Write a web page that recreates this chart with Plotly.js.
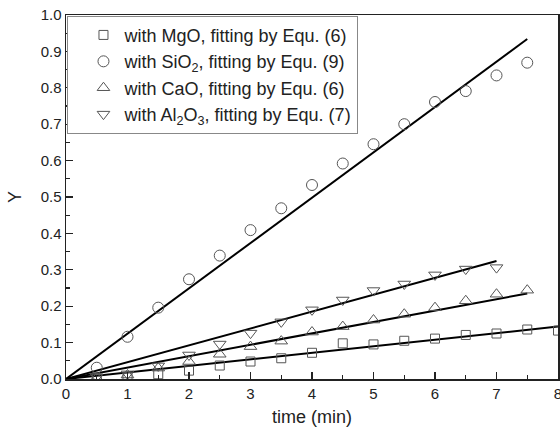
<!DOCTYPE html>
<html><head><meta charset="utf-8">
<script src="https://cdn.plot.ly/plotly-3.0.1.min.js"></script>
<style>html,body{margin:0;padding:0;background:#fff}#chart{width:560px;height:434px}</style>
</head><body><div id="chart"></div>
<script>
const timeMin = [0.5,1,1.5,2,2.5,3,3.5,4,4.5,5,5.5,6,6.5,7,7.5,8];
const mgoY   = [0.002,0.005,0.013,0.023,0.037,0.048,0.057,0.072,0.098,0.095,0.105,0.111,0.121,0.125,0.136,0.133];
const sio2X  = [0.5,1,1.5,2,2.5,3,3.5,4,4.5,5,5.5,6,6.5,7,7.5];
const sio2Y  = [0.031,0.116,0.196,0.274,0.339,0.409,0.469,0.533,0.592,0.645,0.700,0.761,0.791,0.834,0.869];
const caoX   = [0.5,1,1.5,2,2.5,3,3.5,4,4.5,5,5.5,6,6.5,7,7.5];
const caoY   = [0.003,0.011,0.030,0.048,0.068,0.089,0.104,0.129,0.144,0.162,0.178,0.196,0.215,0.233,0.244];
const al2o3X = [0.5,1,1.5,2,2.5,3,3.5,4,4.5,5,5.5,6,6.5,7];
const al2o3Y = [0.006,0.014,0.036,0.066,0.096,0.126,0.157,0.190,0.217,0.243,0.261,0.286,0.302,0.306];
// fitted lines (start, end)
const fitMgoX = [0,8],   fitMgoY = [0,0.144];
const fitSio2X = [0,7.5], fitSio2Y = [0,0.934];
const fitCaoX = [0,7.5], fitCaoY = [0,0.235];
const fitAlX = [0,7],    fitAlY = [0,0.324];
const names = ['with MgO, fitting by Equ. (6)','with SiO<sub>2</sub>, fitting by Equ. (9)','with CaO, fitting by Equ. (6)','with Al<sub>2</sub>O<sub>3</sub>, fitting by Equ. (7)'];

const FONT = 'Arial, Liberation Sans, sans-serif';
const mk = (sym, size) => ({symbol: sym, size: size, color: '#555', line: {width: 1}});
const fit = (x, y) => ({x, y, mode: 'lines', line: {color: '#000', width: 2}, showlegend: false, hoverinfo: 'skip'});
const data = [
  fit(fitMgoX, fitMgoY), fit(fitSio2X, fitSio2Y), fit(fitCaoX, fitCaoY), fit(fitAlX, fitAlY),
  {x: timeMin, y: mgoY, mode: 'markers', name: names[0], marker: mk('square-open', 9)},
  {x: sio2X, y: sio2Y, mode: 'markers', name: names[1], marker: mk('circle-open', 11)},
  {x: caoX, y: caoY, mode: 'markers', name: names[2], marker: mk('triangle-up-open', 11)},
  {x: al2o3X, y: al2o3Y, mode: 'markers', name: names[3], marker: mk('triangle-down-open', 11)}
];
const axBase = {
  showgrid: false, zeroline: false, showline: true, linecolor: '#222', linewidth: 1.5, mirror: true,
  ticks: 'inside', ticklen: 7, tickwidth: 1.2, tickcolor: '#222', ticklabeloverflow: 'allow',
  tickfont: {family: FONT, size: 15, color: '#222'}
};
const layout = {
  width: 560, height: 434,
  margin: {l: 66, r: 2, t: 15, b: 55},
  paper_bgcolor: '#fff', plot_bgcolor: '#fff',
  font: {family: FONT, color: '#222'},
  xaxis: Object.assign({}, axBase, {range: [0, 8], dtick: 1, tick0: 0,
    minor: {dtick: 0.5, ticks: 'inside', ticklen: 4, tickcolor: '#222'},
    title: {text: 'time (min)', font: {family: FONT, size: 18, color: '#222'}, standoff: 10}}),
  yaxis: Object.assign({}, axBase, {range: [0, 1.0], dtick: 0.1, tick0: 0, tickformat: '.1f',
    minor: {dtick: 0.05, ticks: 'inside', ticklen: 4, tickcolor: '#222'},
    title: {text: 'Y', font: {family: FONT, size: 18, color: '#222'}, standoff: 14}}),
  legend: {x: 0.003, y: 0.998, xanchor: 'left', yanchor: 'top', bgcolor: '#fff',
    bordercolor: '#888', borderwidth: 1, tracegroupgap: 0, indentation: 14, itemwidth: 32,
    font: {family: FONT, size: 18, color: '#222'}},
  showlegend: true
};
Plotly.newPlot('chart', data, layout, {displayModeBar: false, staticPlot: true});
</script></body></html>
